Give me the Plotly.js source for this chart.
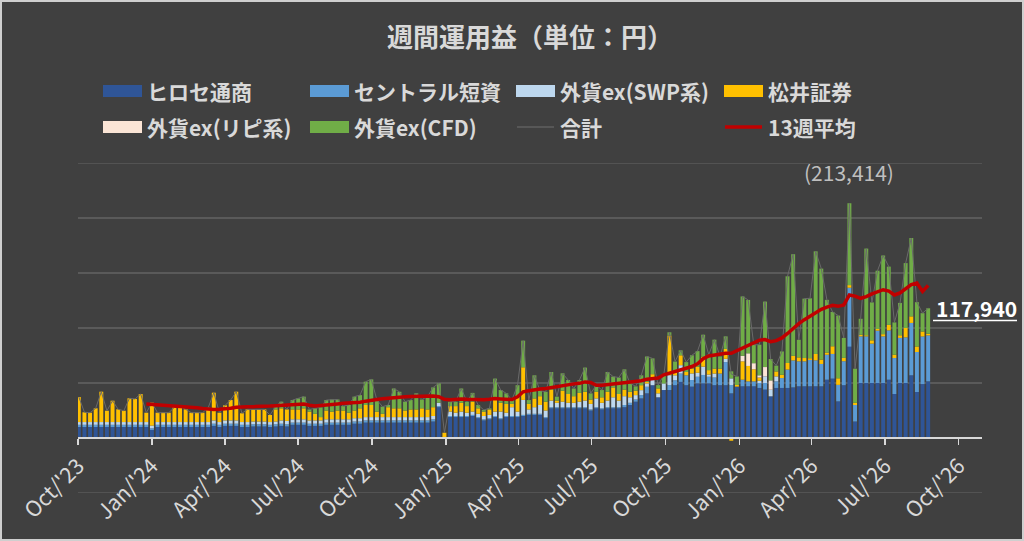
<!DOCTYPE html>
<html>
<head>
<meta charset="utf-8">
<script src="https://cdn.plot.ly/plotly-3.0.1.min.js"></script>
<style>
html,body{margin:0;padding:0;background:#404040;}
#chart{width:1024px;height:541px;}
</style>
</head>
<body>
<div id="chart"></div>
<script>
// ---------------- DATA (weekly, yen) ----------------
const firstWeek = [2023, 9, 2]; // 2023-10-02, one bar per week
const seriesNames = ['ヒロセ通商','セントラル短資','外貨ex(SWP系)','松井証券','外貨ex(リピ系)','外貨ex(CFD)','合計','13週平均'];
const tickDates = ['2023-10-01','2024-01-01','2024-04-01','2024-07-01','2024-10-01','2025-01-01','2025-04-01','2025-07-01','2025-10-01','2026-01-01','2026-04-01','2026-07-01','2026-10-01'];
const tickLabels = ["Oct/'23","Jan/'24","Apr/'24","Jul/'24","Oct/'24","Jan/'25","Apr/'25","Jul/'25","Oct/'25","Jan/'26","Apr/'26","Jul/'26","Oct/'26"];

const hirose = [
 10000,10000,10000,10000,10000,10000,10000,10000,10000,10000,10000,10000,10000,
 7300,10000,10000,10000,10000,10000,10000,10000,10000,10000,10000,11000,10000,
 11000,11000,11000,10000,10000,10500,10500,10500,10000,10500,11000,10500,12000,
 12000,12000,11000,11000,11000,12000,12000,12000,12000,12000,13000,13000,14000,
 14000,14000,14000,14000,14000,14000,14000,14000,14000,14000,14000,15000,28000,0,
 19000,19000,19000,19000,20000,18000,16000,17000,19000,17000,19000,19000,19000,
 20000,21000,21000,21000,18000,27000,27000,27000,27000,27000,27000,27000,25000,
 27000,26000,27000,27000,27000,28000,30000,33000,
 36000,40600,48000,37000,43600,43600,48000,51000,48000,46700,49700,49700,49700,
 48000,48000,48000,40600,46700,47000,47000,47000,45500,44000,37900,45500,45500,
 45500,46000,47000,47000,47000,47000,47000,53000,54000,33300,48000,83000,15000,
 50000,50000,50000,50000,50000,53000,40000,50000,50000,57000,41800,49000,51500
];
const central = [
 2000,2000,2000,2000,2000,2000,2000,2000,2000,2000,2000,2000,2000,
 1500,2000,2000,2000,2000,2000,2000,2000,2000,2000,2000,2000,2000,
 2000,2000,2000,2000,2000,2000,2000,2000,2000,2000,2000,2000,2000,
 2000,2000,2000,2000,2000,2000,2000,2000,2000,2000,2000,2000,2000,
 2000,2000,2000,2000,2000,2000,2000,2000,2000,2000,2000,2000,1000,0,
 1000,1000,1000,1000,1000,1000,1000,1000,1000,1000,1000,1000,1000,
 1000,1000,1000,1000,1000,1000,1000,1000,1000,1000,1000,1000,1000,
 1000,1000,1000,1000,1000,2000,2000,2000,
 3000,6000,0,0,0,4500,4500,7600,9000,6000,6000,7600,6000,
 7000,10600,21000,7600,0,6000,4500,4500,4500,6000,0,6000,9000,
 16700,24500,22700,22700,24000,23600,20300,22700,22400,15000,21800,53600,15000,
 42400,42400,35800,47600,42400,44800,32700,41000,41500,47600,36400,43300,41800
];
const swp = [
 2500,2500,2500,2500,2500,2500,2500,2500,2500,2500,2500,2500,2500,
 2500,2500,2500,2500,2500,2500,2500,2500,2500,2500,2500,3000,2500,
 3000,3000,3000,2500,2500,2500,2500,2500,2500,2500,3000,3000,3000,
 3000,3000,3000,3000,3000,3000,3000,3000,3000,3000,3000,3000,3000,
 3000,3000,3000,3000,3000,3000,3000,3000,3000,3000,3000,3000,3000,0,
 4000,3000,4000,3000,3000,3000,3000,3000,4000,6000,3000,8000,4000,
 13600,4000,6000,8000,6000,6000,4000,5000,4000,4000,5000,6000,5000,
 8000,5000,6000,9000,6000,8000,5000,4000,
 4500,3000,6000,3600,6000,9000,4500,7600,0,6000,3600,7600,2000,
 3600,0,3000,6000,0,0,0,0,2000,6000,6000,4500,0,
 0,0,0,0,0,0,0,0,0,0,0,0,0,
 0,0,0,0,0,0,0,0,0,0,0,0,0
];
const matsui = [
 22800,8900,8500,12500,27600,10300,19400,11600,10300,21600,21000,25500,8500,
 20800,8500,8500,8500,13400,14000,11600,8500,8500,8500,13000,25200,8500,
 13700,18500,26100,8000,11600,11000,11000,11000,6400,11000,11000,10500,9000,
 9000,10000,8000,6000,3000,8000,7000,8000,8000,6000,7000,9000,11000,
 11000,5000,3000,9000,8000,8000,6000,7000,7000,8000,7000,8000,0,4800,
 5000,6000,8000,6000,9000,5000,4000,5000,12000,8000,8000,3000,15000,
 29700,5000,8000,8000,8000,10000,2000,10000,8000,6000,8000,8000,4000,
 6000,5000,8000,9000,6000,6000,5000,4000,
 4500,1500,4000,4500,0,36000,4500,9000,3000,4500,5500,9000,4000,
 4500,4500,9000,-2500,1500,16700,14000,11000,3000,0,0,4500,3000,
 6000,4200,3600,3000,1500,5800,4000,2000,7000,6000,3000,2400,2000,
 1500,1000,3000,1500,2000,5000,3000,2400,8500,6000,5000,4500,1500
];
const ripi = [
 0,0,0,0,0,0,0,0,0,0,0,0,0,
 0,0,0,0,0,0,0,0,0,0,0,0,0,
 0,0,0,0,0,0,0,0,0,0,0,0,0,
 0,0,0,0,0,0,0,0,0,0,0,0,0,
 0,0,0,0,0,0,0,0,0,0,0,0,0,0,
 0,0,0,0,0,0,0,0,0,0,0,0,0,
 0,0,0,0,0,0,0,0,0,0,0,0,0,
 0,0,0,0,0,0,0,0,
 0,0,0,0,0,0,0,0,0,0,0,0,0,
 0,0,0,0,0,5000,11500,5500,2000,8500,8500,0,0,
 0,0,0,0,0,0,0,0,0,0,0,0,0,
 0,0,0,0,0,0,0,0,0,0,0,0,0
];
const cfd = [
 0,0,0,0,0,0,0,0,0,0,0,0,0,
 0,0,0,0,0,0,0,0,0,0,0,0,0,
 0,0,0,0,0,0,0,0,0,3000,6000,0,8500,
 10000,10600,2000,5000,8900,9500,11000,10000,4000,7000,12600,12000,21200,
 23300,10500,6500,2000,18000,15000,8000,8500,14600,8000,11600,18000,17700,0,
 4000,4000,13000,4000,8000,3000,1500,1000,18000,11600,9600,3500,9000,
 24200,3500,21000,5000,9000,16000,3600,15800,12700,7000,11700,22000,5600,
 6000,6600,18000,9800,15000,18400,7700,4000,
 9000,23000,14400,3000,7600,3000,8000,4500,9000,12000,14200,20000,14000,
 26300,11100,11400,6400,7800,54000,48500,16700,27800,59500,19400,5300,21200,
 78800,92400,16000,54000,54500,93300,82700,47900,31200,57000,18200,74414,31000,
 14500,78800,34500,53000,71500,53000,29400,29400,59000,71200,40300,16700,23140
];
// 13-week average line (starts at the 13th week)
const avg13 = [
 30800,30500,29800,29500,29200,28800,28400,28000,27700,27400,26800,26200,26000,
 26200,26400,27000,28000,28500,28500,28500,28500,28800,29000,29400,29800,30200,
 30600,30800,30900,29800,29000,29600,30300,30600,31000,31500,31800,32200,32600,
 33500,34500,35000,35600,36200,36600,37000,37600,37800,38000,38500,38300,38200,
 37500,35200,34800,35200,35500,35200,35000,34500,34800,35200,35800,35500,35200,
 35000,37500,42000,43000,44000,44500,45000,46000,47000,48000,48500,49200,49700,
 51000,50500,48000,48000,48500,49000,49500,50000,50300,51000,52000,53500,54000,
 54500,57500,59000,61000,62400,63500,65000,67500,72000,74500,75500,76500,77000,
 77000,79500,81500,84500,87000,89000,89500,87600,88500,91000,95000,100000,104000,
 107600,111000,113600,117000,119000,120600,119700,121000,130000,129000,127000,128500,131000,
 132500,134800,133500,130000,131800,136000,139400,140900,133300,138800
];
const yRange = [-50000, 250000];

// ---------------- BUILD ----------------
const weeks = hirose.map((_, i) => new Date(Date.UTC(firstWeek[0], firstWeek[1], firstWeek[2] + 7 * i)).toISOString().slice(0, 10));
const total = hirose.map((v, i) => v + central[i] + swp[i] + matsui[i] + ripi[i] + cfd[i]);
const avgWeeks = weeks.slice(weeks.length - avg13.length);

const colors = ['#2F5597', '#5B9BD5', '#BDD7EE', '#FFC000', '#FBE5D6', '#70AD47'];
const stacks = [hirose, central, swp, matsui, ripi, cfd];
const FONT = '"Noto Sans CJK JP", "Noto Sans", sans-serif';
const TXT = '#d9d9d9';
const GRID = '#5a5a5a';

const traces = stacks.map((arr, k) => ({
  type: 'bar', x: weeks, y: arr, name: seriesNames[k],
  marker: {color: colors[k], line: {width: 0}},
  showlegend: false, hoverinfo: 'skip'
}));
traces.push({type: 'scatter', mode: 'lines', x: weeks, y: total, name: seriesNames[6],
  line: {color: '#6a6a6a', width: 1}, showlegend: false, hoverinfo: 'skip'});
traces.push({type: 'scatter', mode: 'lines', x: avgWeeks, y: avg13, name: seriesNames[7],
  line: {color: '#C00000', width: 3.5}, showlegend: false, hoverinfo: 'skip'});

// plot area in pixels
const L = 78, R = 982, T = 163, B = 493;
const px = x => (x - L) / (R - L);
const py = y => (B - y) / (B - T);

const shapes = [];
const annotations = [];
// chart border
shapes.push({type: 'rect', xref: 'paper', yref: 'paper', x0: px(1), x1: px(1023), y0: py(1), y1: py(540),
  line: {color: '#cfcfcf', width: 2}, fillcolor: 'rgba(0,0,0,0)', layer: 'above'});
// gridlines at the range edges (Plotly omits them)
yRange.forEach(v => shapes.push({type: 'line', xref: 'paper', yref: 'y', x0: 0, x1: 1, y0: v, y1: v,
  line: {color: GRID, width: 1.5}, layer: 'below'}));

// legend (manual, Excel style)
const legCols = [103, 310, 516, 724];
const legRows = [91, 127];
seriesNames.forEach((nm, k) => {
  const cx = legCols[k % 4], cy = legRows[Math.floor(k / 4)];
  if (k < 6) {
    shapes.push({type: 'rect', xref: 'paper', yref: 'paper', x0: px(cx), x1: px(cx + 39), y0: py(cy + 6), y1: py(cy - 6),
      fillcolor: colors[k], line: {width: 0}});
  } else {
    shapes.push({type: 'line', xref: 'paper', yref: 'paper', x0: px(cx + 1), x1: px(cx + 38), y0: py(cy), y1: py(cy),
      line: {color: k === 6 ? '#5f5f5f' : '#C00000', width: k === 6 ? 1.5 : 3.5}});
  }
  annotations.push({xref: 'paper', yref: 'paper', x: px(cx + 42), y: py(cy), xanchor: 'left', yanchor: 'middle',
    text: nm, showarrow: false, font: {family: FONT, size: 21, color: TXT, weight: 'bold'}});
});

// max annotation and last value label
let iMax = 0;
total.forEach((v, i) => { if (v > total[iMax]) iMax = i; });
annotations.push({xref: 'x', yref: 'paper', x: weeks[iMax], y: py(172), xanchor: 'center', yanchor: 'middle',
  text: '(' + total[iMax].toLocaleString('en-US') + ')', showarrow: false, font: {family: FONT, size: 21, color: '#bfbfbf'}});
const last = total.length - 1;
annotations.push({xref: 'paper', yref: 'y', x: px(934), y: total[last], xanchor: 'left', yanchor: 'middle',
  text: '<b>' + total[last].toLocaleString('en-US') + '</b>', showarrow: false, font: {family: FONT, size: 21, color: '#ffffff'}});
shapes.push({type: 'line', xref: 'paper', yref: 'paper', x0: px(933), x1: px(1017), y0: py(320.5), y1: py(320.5),
  line: {color: '#ffffff', width: 1.5}});

const layout = {
  width: 1024, height: 541,
  margin: {l: L, r: 1024 - R, t: T, b: 541 - B, pad: 0},
  paper_bgcolor: '#404040', plot_bgcolor: '#404040',
  font: {family: FONT, color: TXT},
  title: {text: '週間運用益（単位：円）', x: 0.5, xref: 'paper', xanchor: 'center',
    y: 1 - 38 / 541, yref: 'container', yanchor: 'middle',
    font: {family: FONT, size: 26, color: TXT, weight: 'bold'}},
  barmode: 'relative', bargap: 0.3,
  showlegend: false,
  xaxis: {type: 'date', range: ['2023-10-01', '2026-10-30'], anchor: 'free', position: (0 - yRange[0]) / (yRange[1] - yRange[0]),
    showgrid: false, zeroline: false, showline: true, linecolor: TXT, linewidth: 2,
    ticks: 'outside', ticklen: 6, tickwidth: 1.5, tickcolor: TXT,
    tickmode: 'array', tickvals: tickDates, ticktext: tickLabels, tickangle: -45,
    tickfont: {family: FONT, size: 21.5, color: TXT}, automargin: false, fixedrange: true},
  yaxis: {range: yRange, tick0: 0, dtick: 50000, showticklabels: false, ticks: '',
    showgrid: true, gridcolor: GRID, gridwidth: 1.5, zeroline: false, showline: false,
    automargin: false, fixedrange: true},
  shapes: shapes, annotations: annotations
};

Plotly.newPlot('chart', traces, layout, {staticPlot: true, displayModeBar: false});
</script>
</body>
</html>
